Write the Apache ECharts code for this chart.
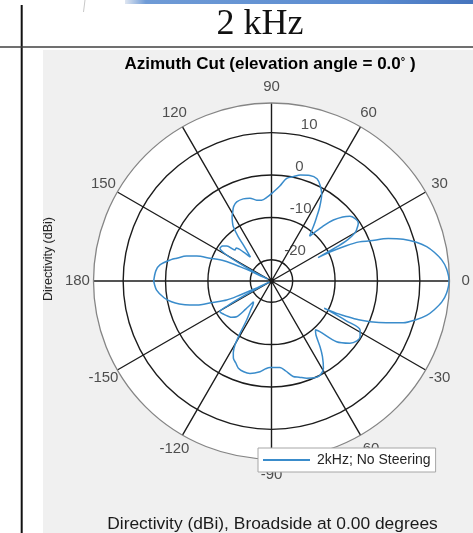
<!DOCTYPE html>
<html>
<head>
<meta charset="utf-8">
<title>2 kHz Azimuth Cut</title>
<script src="https://cdn.jsdelivr.net/npm/echarts@6/dist/echarts.min.js"></script>
<style>
  html, body { margin: 0; padding: 0; background: #fff; }
  #chart { width: 473px; height: 533px; }
</style>
</head>
<body>
<div id="chart"></div>
<script>
// Azimuth angle (deg) and directivity (dBi) of the 2 kHz pattern, no steering
const azimuthDeg = [
  -180, -175.5, -171, -168.3, -166, -163.6, -161.5, -160, -157, -156, -155, -154, -153, -151.8,
  -150.5, -149.2, -145, -141, -137.5, -134.3, -132.5, -131, -129, -125.5, -122.5, -121, -119.7,
  -118, -116.3, -113.5, -110.8, -107, -103.1, -97.2, -94, -91, -88.8, -84.4, -81, -77.2, -74,
  -70.1, -66, -62.7, -59.3, -56, -53.6, -50.5, -48, -46.3, -43, -38.4, -35, -32.2, -29, -28,
  -27.3, -26.5, -25.5, -24, -22.4, -20, -17.6, -15, -12.5, -10, -7, -4,
  0,
  4, 7, 10, 12.5, 15, 17.6, 20, 22.2, 24, 25.3, 26.2, 26.7, 27.5, 28.5, 30, 31, 33.6, 36, 39.6,
  42, 44.6, 46.5, 48.3, 49.6, 50.5, 52.4, 54.5, 57, 60, 63, 66, 70, 74.8, 78, 81.6, 85, 88.8,
  93, 97, 100.4, 104.6, 109, 113.7, 117, 119.5, 121.5, 123.5, 125.1, 126.9, 128, 130, 131.5,
  134, 137, 139.7, 141.8, 144.5, 147.6, 149.5, 151, 152.5, 153.5, 154.5, 155.6, 157, 159.7,
  161.5, 163.6, 166.5, 168, 171.8, 175, 180
];
const directivityDb = [
  2.8, 2.2, 0.6, -0.9, -2.6, -4.9, -7.4, -10.2, -13.5, -16.9, -20.5, -24.5, -23, -18,
  -13, -10.8, -11.3, -11.8, -12.3, -13.2, -16, -18.5, -18.2, -16.5, -14.1, -10.6, -7.6,
  -5.8, -4.7, -3.9, -3.0, -2.6, -2.6, -3.4, -4.2, -4.6, -4.6, -4.5, -3.5, -1.9, -1.4,
  -0.6, 0.0, 0.0, -1.0, -3.5, -5.7, -8.5, -9.5, -8.5, -4.0, -1.4, -0.4, -0.3, -1.1, -5,
  -11, -8, -6, -2.5, 0.2, 3.8, 7.6, 10.3, 12.5, 14.0, 15.5, 16.4,
  16.9,
  16.4, 15.5, 14.0, 12.5, 10.4, 7.6, 4.3, 0.1, -2.3, -5.5, -9, -12.7, -8, -4.5, -2.3, -1.6, -0.4, -0.3, -1.0,
  -2.4, -4.5, -6.8, -9.5, -11.1, -10.6, -8.8, -6.8, -4.1, -1.3, 0.3, 1.4, 1.5, 0.9, 0.2, -0.5, -2.5, -4.0,
  -5.2, -5.8, -5.6, -4.8, -4.5, -4.6, -5.3, -6.4, -7.2, -8.3, -9.3, -11.9, -14.2, -16.5, -17.5,
  -15.5, -13.6, -13.7, -11.6, -10.8, -10.6, -12, -15.5, -20, -24, -21, -16.8, -12.8, -9.5,
  -6.4, -4.1, -2.0, -0.8, 1.6, 2.4, 2.8
];

// Magnitude rings (dBi) and angle tick labels (deg)
const magnitudeTicks = [-20, -10, 0, 10];
const angleTicks = [0, 30, 60, 90, 120, 150, 180, -150, -120, -90, -60, -30];
const seriesName = '2kHz; No Steering';

// Magnitude limits of the polar plot
const rMin = -25;
const rMax = 17;

const FONT = 'Liberation Sans, Arial, Helvetica, sans-serif';
const GRID = '#1c1c1c';
const TXT = '#262626';
const CX = 271.5, CY = 281, R = 178;

const chart = echarts.init(document.getElementById('chart'), null, { renderer: 'canvas' });

const patternData = azimuthDeg.map((a, i) => [directivityDb[i], a]);
// angle labels sit a fixed distance beyond the outer ring
const angleLabelR = rMax + 3.8;
const magLabelAngle = 82.5;

chart.setOption({
  animation: false,
  textStyle: { fontFamily: FONT },
  graphic: [
    // figure panel
    { type: 'rect', z: -10, shape: { x: 43, y: 50, width: 430, height: 483 }, style: { fill: '#f0f0f0' } },
    // white plotting disk behind the polar grid
    { type: 'circle', z: -9, shape: { cx: CX, cy: CY, r: R }, style: { fill: '#ffffff' } },
    // slide header rules
    { type: 'rect', z: -10, shape: { x: 125, y: 0, width: 348, height: 4 },
      style: { fill: new echarts.graphic.LinearGradient(0, 0, 1, 0, [
        { offset: 0, color: '#dfe6f1' }, { offset: 0.06, color: '#6f9bd6' },
        { offset: 0.7, color: '#5a8bd0' }, { offset: 1, color: '#4674bd' }]) } },
    { type: 'line', z: -10, shape: { x1: 85, y1: 0, x2: 83.5, y2: 12 }, style: { stroke: '#c8c8c8', lineWidth: 1 } },
    { type: 'line', z: -10, shape: { x1: 21.7, y1: 5, x2: 21.7, y2: 533 }, style: { stroke: '#111', lineWidth: 2 } },
    { type: 'line', z: -10, shape: { x1: 0, y1: 47, x2: 473, y2: 47 }, style: { stroke: '#404040', lineWidth: 1.6 } },
    // slide title
    { type: 'text', z: 10, x: 260, y: 25,
      style: { text: '2 kHz', font: '36px "Liberation Serif", "Times New Roman", serif', fill: '#111',
        align: 'center', verticalAlign: 'middle' } },
    // axes title
    { type: 'text', z: 10, x: 270, y: 64.5,
      style: { text: '{a|Azimuth Cut (elevation angle = 0.0}{d|°}{a| )}',
        rich: {
          a: { fontFamily: FONT, fontSize: 17, fontWeight: 'bold', fill: '#000' },
          d: { fontFamily: FONT, fontSize: 11, fontWeight: 'bold', fill: '#000', verticalAlign: 'top', padding: [0, 0, 6, 0] }
        },
        align: 'center', verticalAlign: 'middle' } },
    // magnitude axis label
    { type: 'text', z: 10, x: 49, y: 259, rotation: Math.PI / 2,
      style: { text: 'Directivity (dBi)', fontFamily: FONT, fontSize: 12.5, fill: TXT,
        align: 'center', verticalAlign: 'middle' } },
    // figure caption
    { type: 'text', z: 10, x: 272.5, y: 524,
      style: { text: 'Directivity (dBi), Broadside at 0.00 degrees', fontFamily: FONT, fontSize: 17.4, fill: '#1a1a1a',
        align: 'center', verticalAlign: 'middle' } }
  ],
  legend: {
    data: [seriesName],
    left: 258, top: 448,
    orient: 'horizontal',
    backgroundColor: '#fff',
    borderColor: '#a6a6a6', borderWidth: 1, borderRadius: 0,
    padding: [5, 5, 5, 4],
    itemWidth: 47, itemHeight: 14, itemGap: 5,
    selectedMode: false,
    itemStyle: { opacity: 0 },
    textStyle: { fontFamily: FONT, fontSize: 14, color: TXT, padding: [0, 0, 0, 2] }
  },
  polar: { center: [CX, CY], radius: R },
  angleAxis: {
    type: 'value', min: -180, max: 180, interval: 30,
    startAngle: 180, clockwise: false,
    axisLine: { show: true, lineStyle: { color: '#858585', width: 1.3 } },
    axisTick: { show: false },
    axisLabel: { show: false },
    splitLine: { show: true, lineStyle: { color: GRID, width: 1.4 } },
    splitArea: { show: false }
  },
  radiusAxis: {
    type: 'value', min: rMin, max: rMax,
    axisLine: { show: false },
    axisTick: { show: false, customValues: magnitudeTicks },
    axisLabel: { show: false, customValues: magnitudeTicks },
    splitLine: { show: true, lineStyle: { color: GRID, width: 1.4 } }
  },
  series: [
    {
      name: seriesName,
      type: 'line',
      coordinateSystem: 'polar',
      data: patternData,
      symbol: 'none',
      smooth: 0.3,
      lineStyle: { color: '#3a8ccb', width: 1.5 },
      itemStyle: { color: '#3a8ccb' },
      z: 3
    },
    {
      name: 'magnitudeLabels',
      type: 'scatter',
      coordinateSystem: 'polar',
      clip: false, silent: true,
      symbol: 'circle', symbolSize: 1,
      itemStyle: { color: 'rgba(0,0,0,0)' },
      data: magnitudeTicks.map(v => [v, magLabelAngle]),
      label: {
        show: true, position: 'inside', align: 'left', verticalAlign: 'middle', offset: [10, -9],
        fontFamily: FONT, fontSize: 15, color: TXT,
        formatter: p => String(p.value[0])
      },
      z: 4
    },
    {
      name: 'angleLabels',
      type: 'scatter',
      coordinateSystem: 'polar',
      clip: false, silent: true,
      symbol: 'circle', symbolSize: 1,
      itemStyle: { color: 'rgba(0,0,0,0)' },
      data: angleTicks.map(a => [angleLabelR, a]),
      label: {
        show: true, position: 'inside', align: 'center', verticalAlign: 'middle',
        fontFamily: FONT, fontSize: 15, color: TXT,
        formatter: p => String(p.value[1])
      },
      z: 1
    }
  ]
});
</script>
</body>
</html>
